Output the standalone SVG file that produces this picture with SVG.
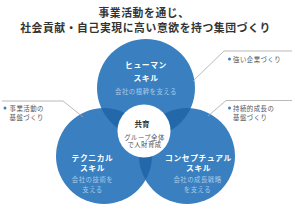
<svg xmlns="http://www.w3.org/2000/svg" width="295" height="210" viewBox="0 0 295 210">
<style>
  text { font-family: "Noto Sans CJK JP", "Noto Sans", sans-serif; text-anchor: middle; }
  .title { font-size: 10.8px; font-weight: bold; fill: #333; letter-spacing: 0.6px; }
  .skill { font-size: 7.8px; font-weight: bold; fill: #fff; letter-spacing: 0.6px; }
  .sub { font-size: 6.4px; fill: #a9c9e8; letter-spacing: 0.5px; }
  .core { font-size: 7.5px; font-weight: bold; fill: #333; }
  .coresub { font-size: 6.4px; fill: #555; letter-spacing: 0.4px; }
  .note { font-size: 6.4px; fill: #555; text-anchor: start; letter-spacing: 0.5px; }
  .blue { fill: #3a80c0; }
  .dark { fill: #2368ab; }
  .bullet { fill: #3a80c0; }
  .line { fill: none; stroke: #a8a8a8; stroke-width: 0.8; }
</style>
<defs>
  <clipPath id="cTop"><circle cx="146" cy="88" r="49"/></clipPath>
  <clipPath id="cLeft"><circle cx="104" cy="156" r="48"/></clipPath>
  <clipPath id="cRight"><circle cx="187" cy="156" r="48"/></clipPath>
</defs>
<rect width="295" height="210" fill="#fff"/>

<g id="title">
  <text class="title" x="144" y="17">事業活動を通じ、</text>
  <text class="title" x="145.5" y="32">社会貢献・自己実現に高い意欲を持つ集団づくり</text>
</g>

<g id="circles-base">
  <circle class="blue" cx="146" cy="88" r="49"/>
  <circle class="blue" cx="104" cy="156" r="48"/>
  <circle class="blue" cx="187" cy="156" r="48"/>
  <circle class="dark" cx="104" cy="156" r="48" clip-path="url(#cTop)"/>
  <circle class="dark" cx="187" cy="156" r="48" clip-path="url(#cTop)"/>
  <circle class="dark" cx="187" cy="156" r="48" clip-path="url(#cLeft)"/>
</g>

<g id="connectors">
  <polyline class="line" points="193,81 224,51 292,51"/>
  <polyline class="line" points="208,116 226,100.5 292,100.5"/>
  <polyline class="line" points="2,101 63,101 83,117"/>
</g>

<g id="human-skill">
  <text class="skill" x="146" y="68">ヒューマン</text>
  <text class="skill" x="146" y="80.5">スキル</text>
  <text class="sub" x="146" y="93.5">会社の根幹を支える</text>
</g>

<g id="technical-skill">
  <text class="skill" x="92.5" y="160.5">テクニカル</text>
  <text class="skill" x="92.5" y="170.5">スキル</text>
  <text class="sub" x="92.5" y="182">会社の技術を</text>
  <text class="sub" x="92.5" y="191.5">支える</text>
</g>

<g id="conceptual-skill">
  <text class="skill" x="198.5" y="160.5">コンセプチュアル</text>
  <text class="skill" x="198.5" y="170.5">スキル</text>
  <text class="sub" x="197.5" y="182">会社の成長戦略</text>
  <text class="sub" x="197.5" y="191.5">を支える</text>
</g>

<g id="core">
  <circle cx="144" cy="131" r="26.5" fill="#fff"/>
  <text class="core" x="142" y="127">共育</text>
  <text class="coresub" x="144.5" y="139.5">グループ全体</text>
  <text class="coresub" x="144.5" y="147">で人財育成</text>
</g>

<g id="note-strong">
  <circle class="bullet" cx="229.5" cy="59" r="1.5"/>
  <text class="note" x="233" y="61.5">強い企業づくり</text>
</g>

<g id="note-sustain">
  <circle class="bullet" cx="229.5" cy="108" r="1.5"/>
  <text class="note" x="233" y="110.5">持続的成長の</text>
  <text class="note" x="233" y="119.5">基盤づくり</text>
</g>

<g id="note-business">
  <circle class="bullet" cx="5" cy="108" r="1.5"/>
  <text class="note" x="9.5" y="110.5">事業活動の</text>
  <text class="note" x="9.5" y="119.5">基盤づくり</text>
</g>
</svg>
